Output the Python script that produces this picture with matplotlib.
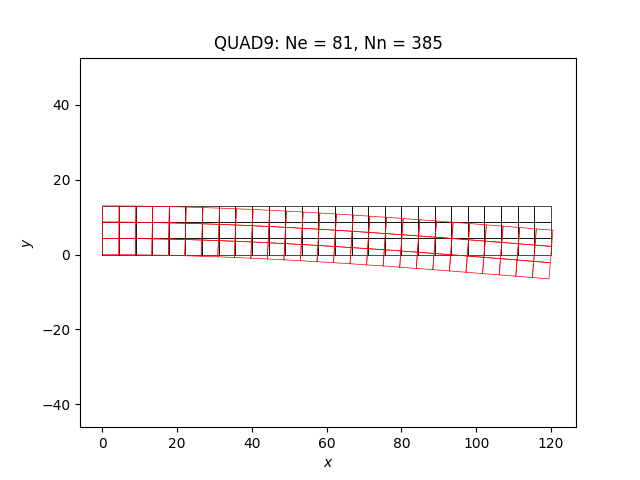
import matplotlib
matplotlib.use('Agg')
import matplotlib.pyplot as plt

# Mesh stations along the beam and through the height
x_nodes = [0.0, 4.44, 8.89, 13.33, 17.78, 22.22, 26.67, 31.11, 35.56, 40.0,
           44.44, 48.89, 53.33, 57.78, 62.22, 66.67, 71.11, 75.56, 80.0,
           84.44, 88.89, 93.33, 97.78, 102.22, 106.67, 111.11, 115.56, 120.0]
y_nodes = [0.0, 4.33, 8.67, 13.0]

# Downward deflection of each station
deflection = [0.0, 0.01, 0.05, 0.12, 0.20, 0.31, 0.45, 0.60, 0.77, 0.96,
              1.17, 1.40, 1.64, 1.90, 2.17, 2.45, 2.75, 3.05, 3.37,
              3.70, 4.03, 4.37, 4.72, 5.07, 5.42, 5.78, 6.14, 6.50]
# Lean of each cross section (x shift per unit of height)
tilt = [0.0, 0.006, 0.012, 0.017, 0.022, 0.027, 0.032, 0.037, 0.041, 0.045,
        0.049, 0.053, 0.056, 0.059, 0.062, 0.065, 0.068, 0.070, 0.072,
        0.074, 0.076, 0.077, 0.078, 0.079, 0.080, 0.081, 0.081, 0.081]

y_mid = 6.5


def draw_mesh(ax, xs, ys, color):
    # Outline every element of the structured grid
    for i in range(len(x_nodes) - 1):
        for j in range(len(y_nodes) - 1):
            corners = [(i, j), (i + 1, j), (i + 1, j + 1), (i, j + 1), (i, j)]
            ax.plot([xs[a][b] for a, b in corners],
                    [ys[a][b] for a, b in corners],
                    color=color, linewidth=0.5)


x_orig = [[x for y in y_nodes] for x in x_nodes]
y_orig = [[y for y in y_nodes] for x in x_nodes]
x_def = [[x + t * (y - y_mid) for y in y_nodes]
         for x, t in zip(x_nodes, tilt)]
y_def = [[y - d for y in y_nodes] for d in deflection]

fig, ax = plt.subplots()
draw_mesh(ax, x_orig, y_orig, 'k')
draw_mesh(ax, x_def, y_def, 'r')

ax.set_xlim(-6.0, 126.7)
ax.set_ylim(-46.1, 52.6)
ax.set_xlabel('$x$')
ax.set_ylabel('$y$')
ax.set_title('QUAD9: Ne = 81, Nn = 385')

fig.savefig('out.png', dpi=100)
